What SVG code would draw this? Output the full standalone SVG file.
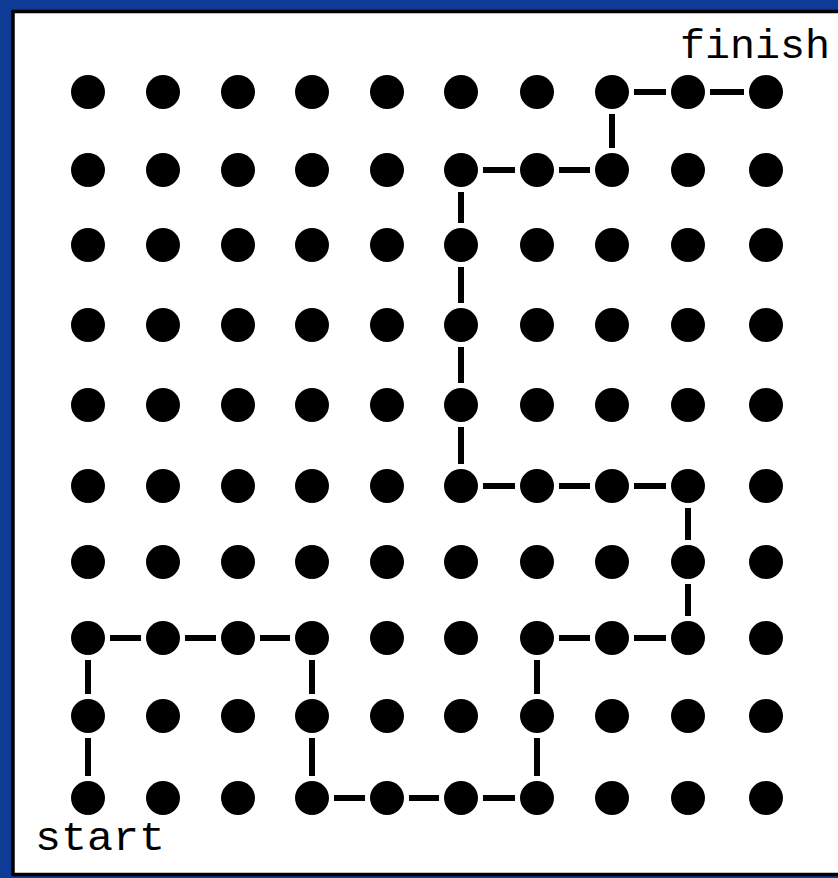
<svg xmlns="http://www.w3.org/2000/svg" width="838" height="878" viewBox="0 0 838 878">
<style>
.dot{fill:#000}
.c line{stroke:#000;stroke-width:6;stroke-linecap:butt}
.lbl{font-family:"Liberation Mono","DejaVu Sans Mono",monospace;font-size:40px;fill:#000}
</style>
<rect x="0" y="0" width="838" height="878" fill="#0e3b95"/>
<rect x="13" y="11.5" width="830" height="863" fill="#fff" stroke="#000" stroke-width="3.5"/>
<g id="dots">
<g id="r0"><circle class="dot" cx="88" cy="92" r="17"/><circle class="dot" cx="163" cy="92" r="17"/><circle class="dot" cx="238" cy="92" r="17"/><circle class="dot" cx="312" cy="92" r="17"/><circle class="dot" cx="387" cy="92" r="17"/><circle class="dot" cx="461" cy="92" r="17"/><circle class="dot" cx="537" cy="92" r="17"/><circle class="dot" cx="612" cy="92" r="17"/><circle class="dot" cx="688" cy="92" r="17"/><circle class="dot" cx="766" cy="92" r="17"/></g>
<g id="r1"><circle class="dot" cx="88" cy="170" r="17"/><circle class="dot" cx="163" cy="170" r="17"/><circle class="dot" cx="238" cy="170" r="17"/><circle class="dot" cx="312" cy="170" r="17"/><circle class="dot" cx="387" cy="170" r="17"/><circle class="dot" cx="461" cy="170" r="17"/><circle class="dot" cx="537" cy="170" r="17"/><circle class="dot" cx="612" cy="170" r="17"/><circle class="dot" cx="688" cy="170" r="17"/><circle class="dot" cx="766" cy="170" r="17"/></g>
<g id="r2"><circle class="dot" cx="88" cy="245" r="17"/><circle class="dot" cx="163" cy="245" r="17"/><circle class="dot" cx="238" cy="245" r="17"/><circle class="dot" cx="312" cy="245" r="17"/><circle class="dot" cx="387" cy="245" r="17"/><circle class="dot" cx="461" cy="245" r="17"/><circle class="dot" cx="537" cy="245" r="17"/><circle class="dot" cx="612" cy="245" r="17"/><circle class="dot" cx="688" cy="245" r="17"/><circle class="dot" cx="766" cy="245" r="17"/></g>
<g id="r3"><circle class="dot" cx="88" cy="325" r="17"/><circle class="dot" cx="163" cy="325" r="17"/><circle class="dot" cx="238" cy="325" r="17"/><circle class="dot" cx="312" cy="325" r="17"/><circle class="dot" cx="387" cy="325" r="17"/><circle class="dot" cx="461" cy="325" r="17"/><circle class="dot" cx="537" cy="325" r="17"/><circle class="dot" cx="612" cy="325" r="17"/><circle class="dot" cx="688" cy="325" r="17"/><circle class="dot" cx="766" cy="325" r="17"/></g>
<g id="r4"><circle class="dot" cx="88" cy="405" r="17"/><circle class="dot" cx="163" cy="405" r="17"/><circle class="dot" cx="238" cy="405" r="17"/><circle class="dot" cx="312" cy="405" r="17"/><circle class="dot" cx="387" cy="405" r="17"/><circle class="dot" cx="461" cy="405" r="17"/><circle class="dot" cx="537" cy="405" r="17"/><circle class="dot" cx="612" cy="405" r="17"/><circle class="dot" cx="688" cy="405" r="17"/><circle class="dot" cx="766" cy="405" r="17"/></g>
<g id="r5"><circle class="dot" cx="88" cy="486" r="17"/><circle class="dot" cx="163" cy="486" r="17"/><circle class="dot" cx="238" cy="486" r="17"/><circle class="dot" cx="312" cy="486" r="17"/><circle class="dot" cx="387" cy="486" r="17"/><circle class="dot" cx="461" cy="486" r="17"/><circle class="dot" cx="537" cy="486" r="17"/><circle class="dot" cx="612" cy="486" r="17"/><circle class="dot" cx="688" cy="486" r="17"/><circle class="dot" cx="766" cy="486" r="17"/></g>
<g id="r6"><circle class="dot" cx="88" cy="562" r="17"/><circle class="dot" cx="163" cy="562" r="17"/><circle class="dot" cx="238" cy="562" r="17"/><circle class="dot" cx="312" cy="562" r="17"/><circle class="dot" cx="387" cy="562" r="17"/><circle class="dot" cx="461" cy="562" r="17"/><circle class="dot" cx="537" cy="562" r="17"/><circle class="dot" cx="612" cy="562" r="17"/><circle class="dot" cx="688" cy="562" r="17"/><circle class="dot" cx="766" cy="562" r="17"/></g>
<g id="r7"><circle class="dot" cx="88" cy="638" r="17"/><circle class="dot" cx="163" cy="638" r="17"/><circle class="dot" cx="238" cy="638" r="17"/><circle class="dot" cx="312" cy="638" r="17"/><circle class="dot" cx="387" cy="638" r="17"/><circle class="dot" cx="461" cy="638" r="17"/><circle class="dot" cx="537" cy="638" r="17"/><circle class="dot" cx="612" cy="638" r="17"/><circle class="dot" cx="688" cy="638" r="17"/><circle class="dot" cx="766" cy="638" r="17"/></g>
<g id="r8"><circle class="dot" cx="88" cy="716" r="17"/><circle class="dot" cx="163" cy="716" r="17"/><circle class="dot" cx="238" cy="716" r="17"/><circle class="dot" cx="312" cy="716" r="17"/><circle class="dot" cx="387" cy="716" r="17"/><circle class="dot" cx="461" cy="716" r="17"/><circle class="dot" cx="537" cy="716" r="17"/><circle class="dot" cx="612" cy="716" r="17"/><circle class="dot" cx="688" cy="716" r="17"/><circle class="dot" cx="766" cy="716" r="17"/></g>
<g id="r9"><circle class="dot" cx="88" cy="798" r="17"/><circle class="dot" cx="163" cy="798" r="17"/><circle class="dot" cx="238" cy="798" r="17"/><circle class="dot" cx="312" cy="798" r="17"/><circle class="dot" cx="387" cy="798" r="17"/><circle class="dot" cx="461" cy="798" r="17"/><circle class="dot" cx="537" cy="798" r="17"/><circle class="dot" cx="612" cy="798" r="17"/><circle class="dot" cx="688" cy="798" r="17"/><circle class="dot" cx="766" cy="798" r="17"/></g>
</g>
<g id="connectors" class="c">
<line x1="88" y1="776" x2="88" y2="738"/>
<line x1="88" y1="694" x2="88" y2="660"/>
<line x1="110" y1="638" x2="141" y2="638"/>
<line x1="185" y1="638" x2="216" y2="638"/>
<line x1="260" y1="638" x2="290" y2="638"/>
<line x1="312" y1="660" x2="312" y2="694"/>
<line x1="312" y1="738" x2="312" y2="776"/>
<line x1="334" y1="798" x2="365" y2="798"/>
<line x1="409" y1="798" x2="439" y2="798"/>
<line x1="483" y1="798" x2="515" y2="798"/>
<line x1="537" y1="776" x2="537" y2="738"/>
<line x1="537" y1="694" x2="537" y2="660"/>
<line x1="559" y1="638" x2="590" y2="638"/>
<line x1="634" y1="638" x2="666" y2="638"/>
<line x1="688" y1="616" x2="688" y2="584"/>
<line x1="688" y1="540" x2="688" y2="508"/>
<line x1="666" y1="486" x2="634" y2="486"/>
<line x1="590" y1="486" x2="559" y2="486"/>
<line x1="515" y1="486" x2="483" y2="486"/>
<line x1="461" y1="464" x2="461" y2="427"/>
<line x1="461" y1="383" x2="461" y2="347"/>
<line x1="461" y1="303" x2="461" y2="267"/>
<line x1="461" y1="223" x2="461" y2="192"/>
<line x1="483" y1="170" x2="515" y2="170"/>
<line x1="559" y1="170" x2="590" y2="170"/>
<line x1="612" y1="148" x2="612" y2="114"/>
<line x1="634" y1="92" x2="666" y2="92"/>
<line x1="710" y1="92" x2="744" y2="92"/>
</g>
<g id="labels">
<text class="lbl" x="680" y="58" textLength="150" lengthAdjust="spacingAndGlyphs">finish</text>
<text class="lbl" x="35" y="850" textLength="130" lengthAdjust="spacingAndGlyphs">start</text>
</g>
</svg>
